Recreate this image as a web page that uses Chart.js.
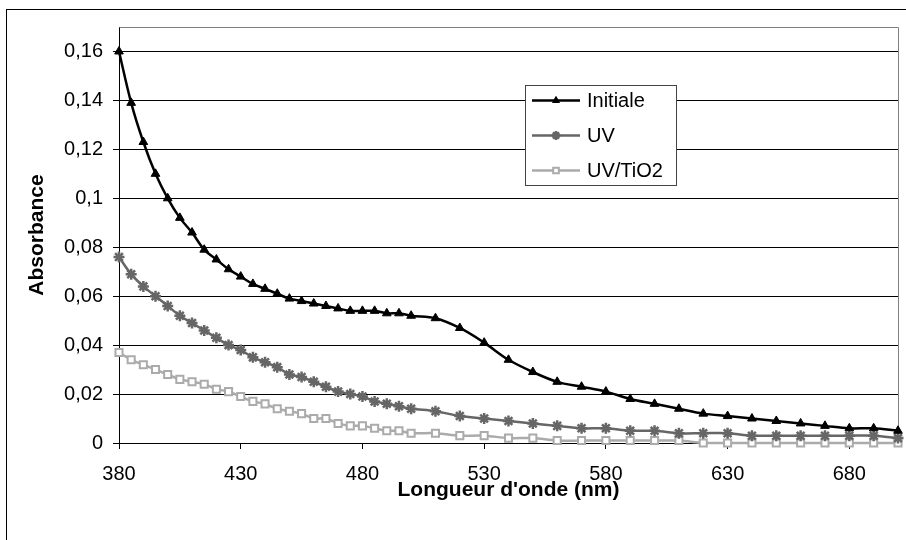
<!DOCTYPE html>
<html>
<head>
<meta charset="utf-8">
<script src="https://cdn.jsdelivr.net/npm/chart.js@4/dist/chart.umd.min.js"></script>
<style>
  body { margin: 0; background: #fff; }
  canvas { display: block; }
</style>
</head>
<body>
<canvas id="chart" width="906" height="540"></canvas>
<script>
// wavelengths (nm): every 5 nm up to 500, then every 10 nm
const wavelengths = [380, 385, 390, 395, 400, 405, 410, 415, 420, 425, 430, 435, 440, 445, 450,
  455, 460, 465, 470, 475, 480, 485, 490, 495, 500,
  510, 520, 530, 540, 550, 560, 570, 580, 590, 600, 610, 620, 630, 640, 650, 660, 670, 680, 690, 700];

const initiale = [0.160, 0.139, 0.123, 0.110, 0.100, 0.092, 0.086, 0.079, 0.075, 0.071, 0.068, 0.065, 0.063, 0.061, 0.059,
  0.058, 0.057, 0.056, 0.055, 0.054, 0.054, 0.054, 0.053, 0.053, 0.052,
  0.051, 0.047, 0.041, 0.034, 0.029, 0.025, 0.023, 0.021, 0.018, 0.016, 0.014, 0.012, 0.011, 0.010, 0.009, 0.008, 0.007, 0.006, 0.006, 0.005];

const uv = [0.076, 0.069, 0.064, 0.060, 0.056, 0.052, 0.049, 0.046, 0.043, 0.040, 0.038, 0.035, 0.033, 0.031, 0.028,
  0.027, 0.025, 0.023, 0.021, 0.020, 0.019, 0.017, 0.016, 0.015, 0.014,
  0.013, 0.011, 0.010, 0.009, 0.008, 0.007, 0.006, 0.006, 0.005, 0.005, 0.004, 0.004, 0.004, 0.003, 0.003, 0.003, 0.003, 0.003, 0.003, 0.002];

const uvTio2 = [0.037, 0.034, 0.032, 0.030, 0.028, 0.026, 0.025, 0.024, 0.022, 0.021, 0.019, 0.017, 0.016, 0.014, 0.013,
  0.012, 0.010, 0.010, 0.008, 0.007, 0.007, 0.006, 0.005, 0.005, 0.004,
  0.004, 0.003, 0.003, 0.002, 0.002, 0.001, 0.001, 0.001, 0.001, 0.001, 0.001, 0, 0, 0, 0, 0, 0, 0, 0, 0];

const xTicks = [380, 430, 480, 530, 580, 630, 680];
const yTicks = [0, 0.02, 0.04, 0.06, 0.08, 0.1, 0.12, 0.14, 0.16];

const FONT = "'Liberation Sans', Arial, sans-serif";

function toPoints(values) {
  return values.map((v, i) => ({ x: wavelengths[i], y: v }));
}

// white page + outer frame (only its top/left edges fall inside the window)
const framePlugin = {
  id: "frame",
  beforeDraw(chart) {
    const ctx = chart.ctx;
    ctx.save();
    ctx.fillStyle = "#fff";
    ctx.fillRect(0, 0, chart.width, chart.height);
    ctx.strokeStyle = "#000";
    ctx.lineWidth = 1;
    ctx.strokeRect(6.5, 9.5, 920, 560);
    ctx.restore();
  },
  beforeDatasetsDraw(chart) {
    // grey top and right edges of the plot area
    const a = chart.chartArea;
    const ctx = chart.ctx;
    ctx.save();
    ctx.strokeStyle = "#808080";
    ctx.lineWidth = 1;
    ctx.beginPath();
    ctx.moveTo(Math.round(a.left) + 0.5, Math.round(a.top) + 0.5);
    ctx.lineTo(Math.round(a.right) + 0.5, Math.round(a.top) + 0.5);
    ctx.lineTo(Math.round(a.right) + 0.5, Math.round(a.bottom) + 0.5);
    ctx.stroke();
    ctx.restore();
  }
};

// legend box inside the plot, like the Excel one
const legendPlugin = {
  id: "boxLegend",
  afterDatasetsDraw(chart) {
    const ctx = chart.ctx;
    const bx = 525.5, by = 85.5, bw = 151, bh = 100;
    const rows = [100.5, 135.5, 170.5];
    ctx.save();
    ctx.fillStyle = "#fff";
    ctx.fillRect(bx, by, bw, bh);
    ctx.strokeStyle = "#444";
    ctx.lineWidth = 1;
    ctx.strokeRect(bx, by, bw, bh);
    chart.data.datasets.forEach((ds, i) => {
      const y = rows[i];
      ctx.strokeStyle = ds.borderColor;
      ctx.lineWidth = ds.borderWidth;
      ctx.beginPath();
      ctx.moveTo(532, y);
      ctx.lineTo(580, y);
      ctx.stroke();
      ctx.strokeStyle = ds.pointBorderColor;
      ctx.fillStyle = ds.pointBackgroundColor;
      ctx.lineWidth = ds.pointBorderWidth;
      Chart.helpers.drawPoint(ctx, {
        pointStyle: ds.pointStyle,
        radius: ds.pointRadius * 0.8,
        rotation: 0,
        borderWidth: ds.pointBorderWidth
      }, 556, y);
      ctx.fillStyle = "#000";
      ctx.font = "20px " + FONT;
      ctx.textBaseline = "middle";
      ctx.textAlign = "left";
      ctx.fillText(ds.label, 587, y + 1);
    });
    ctx.restore();
  }
};

new Chart(document.getElementById("chart").getContext("2d"), {
  type: "line",
  data: {
    datasets: [
      {
        label: "Initiale",
        data: toPoints(initiale),
        borderColor: "#000",
        borderWidth: 2.5,
        pointStyle: "triangle",
        pointRadius: 5,
        pointBorderWidth: 1,
        pointBackgroundColor: "#000",
        pointBorderColor: "#000",
        tension: 0.35,
        clip: false
      },
      {
        label: "UV",
        data: toPoints(uv),
        borderColor: "#666",
        borderWidth: 2.5,
        pointStyle: "star",
        pointRadius: 5.5,
        pointBorderWidth: 2.5,
        pointBackgroundColor: "#666",
        pointBorderColor: "#666",
        tension: 0.35,
        clip: false
      },
      {
        label: "UV/TiO2",
        data: toPoints(uvTio2),
        borderColor: "#ababab",
        borderWidth: 2.5,
        pointStyle: "rect",
        pointRadius: 5,
        pointBorderWidth: 2,
        pointBackgroundColor: "#fff",
        pointBorderColor: "#ababab",
        tension: 0.35,
        clip: false
      }
    ]
  },
  options: {
    responsive: false,
    animation: false,
    events: [],
    layout: { padding: { left: 0, top: 27, right: 8, bottom: 0 } },
    plugins: {
      legend: { display: false },
      tooltip: { enabled: false }
    },
    scales: {
      x: {
        type: "linear",
        min: 380,
        max: 700,
        afterBuildTicks: (scale) => { scale.ticks = xTicks.map(v => ({ value: v })); },
        afterFit: (scale) => { scale.height = 97; },
        grid: { drawOnChartArea: false, tickLength: 6, color: "#000" },
        border: { color: "#000" },
        ticks: { color: "#000", font: { family: FONT, size: 20 }, padding: 13, maxRotation: 0 },
        title: {
          display: true,
          text: "Longueur d'onde (nm)",
          color: "#000",
          font: { family: FONT, size: 21, weight: "bold" },
          padding: { top: 0, bottom: 37 }
        }
      },
      y: {
        min: 0,
        max: 0.17,
        afterBuildTicks: (scale) => { scale.ticks = yTicks.map(v => ({ value: v })); },
        afterFit: (scale) => { scale.width = 119; },
        grid: { color: "#000", tickLength: 6 },
        border: { color: "#000" },
        ticks: {
          color: "#000",
          font: { family: FONT, size: 20 },
          padding: 10,
          callback: (v) => String(v).replace(".", ",")
        },
        title: {
          display: true,
          text: "Absorbance",
          color: "#000",
          font: { family: FONT, size: 21, weight: "bold" },
          padding: { top: 25, bottom: 0 }
        }
      }
    }
  },
  plugins: [framePlugin, legendPlugin]
});
</script>
</body>
</html>
